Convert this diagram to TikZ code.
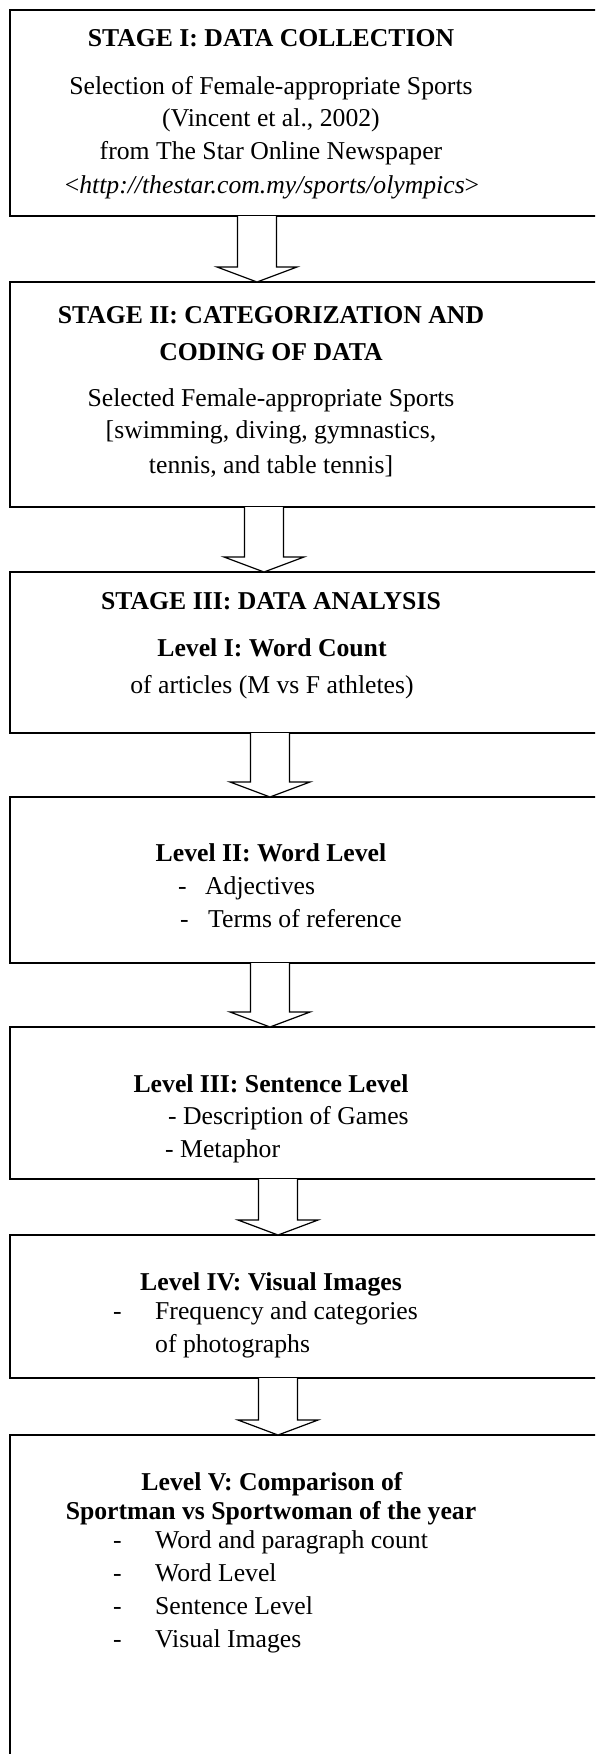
\documentclass[tikz,border=0pt]{standalone}
\usepackage{fontspec}
\setmainfont{Liberation Serif}
\begin{document}
\begin{tikzpicture}[
 x=1pt, y=-1pt,
 line join=miter,
 box/.style={draw=black,line width=1.5pt,rectangle,inner sep=0pt,outer sep=0pt,anchor=north west,minimum width=610pt},
 line/.style={inner sep=0pt,anchor=base,font=\fontsize{25.7}{31}\selectfont},
 head/.style={line,font=\fontsize{25.7}{31}\selectfont\bfseries},
 item/.style={line,anchor=base west},
 hollow/.style={draw=black,fill=white,line width=1.2pt}
]
\useasboundingbox (0,0) rectangle (595,1754);
\clip (0,0) rectangle (595,1754);
% stage boxes
\node (stage1-box) [box,minimum height=206pt] at (10,10) {};
\node (stage2-box) [box,minimum height=225pt] at (10,282) {};
\node (stage3-box) [box,minimum height=161pt] at (10,572) {};
\node (level2-box) [box,minimum height=166pt] at (10,797) {};
\node (level3-box) [box,minimum height=152pt] at (10,1027) {};
\node (level4-box) [box,minimum height=143pt] at (10,1235) {};
\node (level5-box) [box,minimum height=400pt] at (10,1435) {};
% texts
\node (stage1-title) [head] at (271,46) {STAGE I: DATA COLLECTION};
\node (stage1-a) [line] at (271,94) {Selection of Female-appropriate Sports};
\node (stage1-b) [line] at (271,126) {(Vincent et al., 2002)};
\node (stage1-c) [line] at (271,159) {from The Star Online Newspaper};
\node (stage1-d) [line] at (272,193) {<\textit{http://thestar.com.my/sports/olympics}>};
\node (stage2-title) [head] at (271,323) {STAGE II: CATEGORIZATION AND};
\node (stage2-title2) [head] at (271,360) {CODING OF DATA};
\node (stage2-a) [line] at (271,406) {Selected Female-appropriate Sports};
\node (stage2-b) [line] at (271,438) {[swimming, diving, gymnastics,};
\node (stage2-c) [line] at (271,473) {tennis, and table tennis]};
\node (stage3-title) [head] at (271,609) {STAGE III: DATA ANALYSIS};
\node (level1-title) [head] at (272,656) {Level I: Word Count};
\node (level1-a) [line] at (272,693) {of articles (M vs F athletes)};
\node (level2-title) [head] at (271,861) {Level II: Word Level};
\node (level2-a) [item] at (178,894) {\makebox[27pt][l]{-}Adjectives};
\node (level2-b) [item] at (180,927) {\makebox[28pt][l]{-}Terms of reference};
\node (level3-title) [head] at (271,1092) {Level III: Sentence Level};
\node (level3-a) [item] at (168,1124) {- Description of Games};
\node (level3-b) [item] at (165,1157) {- Metaphor};
\node (level4-title) [head] at (271,1290) {Level IV: Visual Images};
\node (level4-a) [item] at (113,1319) {\makebox[42pt][l]{-}Frequency and categories};
\node (level4-b) [item] at (155,1352) {of photographs};
\node (level5-title) [head] at (272,1490) {Level V: Comparison of};
\node (level5-title2) [head] at (271,1519) {Sportman vs Sportwoman of the year};
\node (level5-a) [item] at (113,1548) {\makebox[42pt][l]{-}Word and paragraph count};
\node (level5-b) [item] at (113,1581) {\makebox[42pt][l]{-}Word Level};
\node (level5-c) [item] at (113,1614) {\makebox[42pt][l]{-}Sentence Level};
\node (level5-d) [item] at (113,1647) {\makebox[42pt][l]{-}Visual Images};
% block arrows between the boxes
\foreach \a/\b/\x in {stage1-box/stage2-box/257, stage2-box/stage3-box/264, stage3-box/level2-box/270,
  level2-box/level3-box/270, level3-box/level4-box/278, level4-box/level5-box/278}
  \draw [hollow] ([xshift=\x-29.5]\a.south west) -- ([xshift=\x-29.5,yshift=15]\b.north west)
    -- ([xshift=\x-50,yshift=15]\b.north west) -- ([xshift=\x-10]\b.north west)
    -- ([xshift=\x+30,yshift=15]\b.north west) -- ([xshift=\x+9.5,yshift=15]\b.north west)
    -- ([xshift=\x+9.5]\a.south west);
\end{tikzpicture}
\end{document}
